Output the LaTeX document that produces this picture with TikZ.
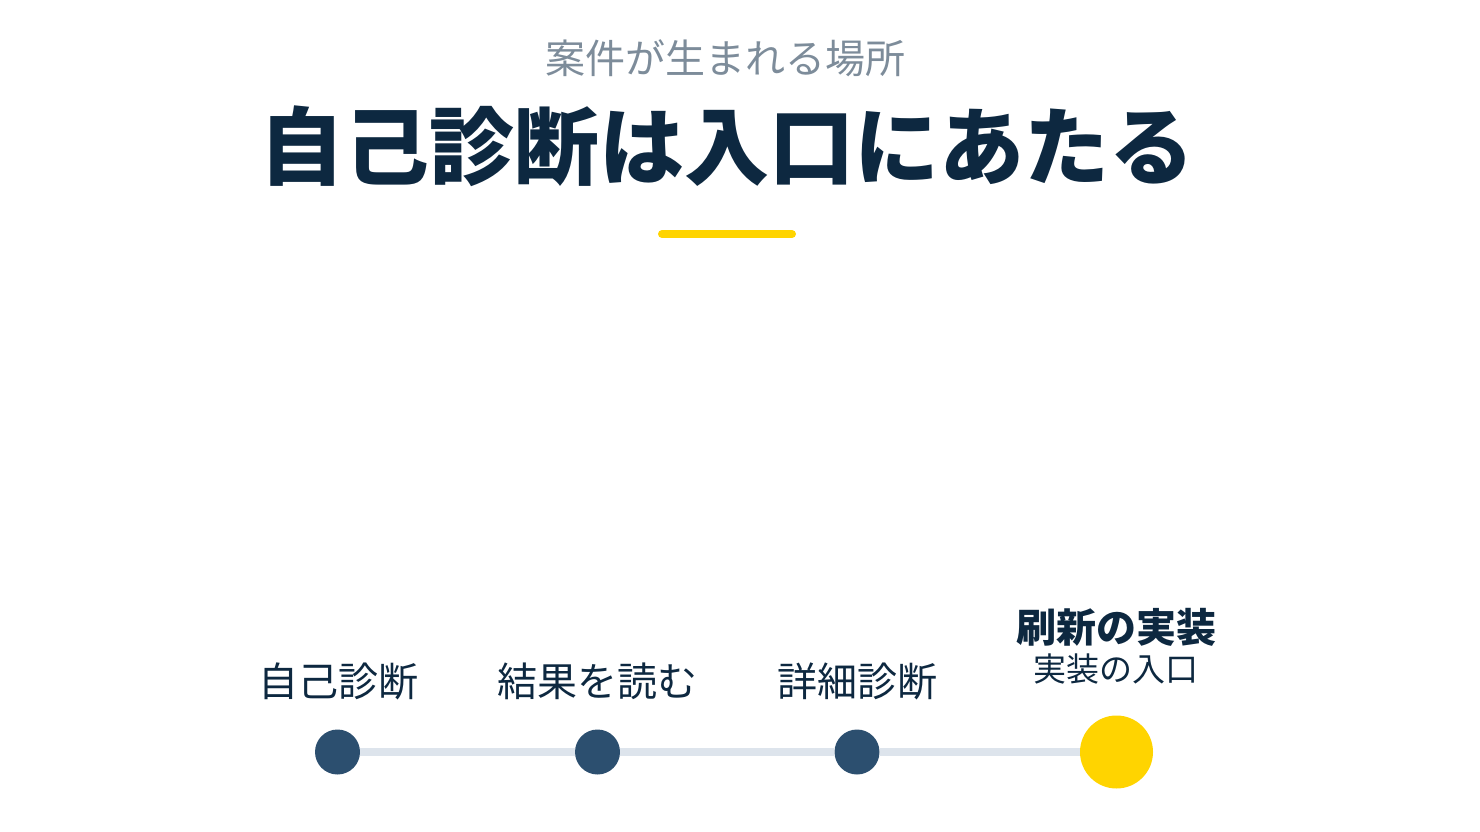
\documentclass[tikz,border=0pt]{standalone}
\usepackage{fontspec}
\newfontfamily\cjk{Noto Sans CJK JP}
\definecolor{navy}{HTML}{0D2840}
\definecolor{dotblue}{HTML}{2C4F6F}
\definecolor{subgray}{HTML}{7D8C9A}
\definecolor{railgray}{HTML}{DDE4EC}
\definecolor{accent}{HTML}{FFD400}

\begin{document}
\begin{tikzpicture}
[every node/.style={inner sep=0pt, font=\cjk},
 step dot/.style={circle, minimum size=45pt, fill=dotblue},
 goal dot/.style={circle, minimum size=73pt, fill=accent},
 step label/.style={text=navy, font=\cjk\fontsize{40}{44}\selectfont}]
\useasboundingbox (0pt, 0pt) rectangle (1480pt, -832pt);
\node (sub) [text=subgray, font=\cjk\fontsize{40}{44}\selectfont] at (725.0pt, -58.0pt) {案件が生まれる場所};
\node (title) [text=navy, font=\cjk\bfseries\fontsize{85}{90}\selectfont] at (727.0pt, -146.0pt) {自己診断は入口にあたる};
\coordinate (barL) at (662.0pt, -234.0pt);
\coordinate (barR) at (792.0pt, -234.0pt);
\draw [line width=8pt, line cap=round, color=accent] (barL) to (barR);
\node (d1) [step dot] at (337.5pt, -752.0pt) {};
\node (d2) [step dot] at (597.5pt, -752.0pt) {};
\node (d3) [step dot] at (857.0pt, -752.0pt) {};
\node (d4) [goal dot] at (1116.5pt, -752.0pt) {};
\node (l1) [step label] at (338.0pt, -681.0pt) {自己診断};
\node (l2) [step label] at (597.0pt, -681.0pt) {結果を読む};
\node (l3) [step label] at (857.0pt, -681.0pt) {詳細診断};
\node (l4) [step label, font=\cjk\bfseries\fontsize{40}{44}\selectfont] at (1116.0pt, -627.0pt) {刷新の実装};
\node (l5) [step label, font=\cjk\fontsize{33}{36}\selectfont] at (1116.0pt, -669.0pt) {実装の入口};
% rail between the dots
\draw [line width=8pt, color=railgray] (d1) to (d2);
\draw [line width=8pt, color=railgray] (d2) to (d3);
\draw [line width=8pt, color=railgray] (d3) to (d4);
\end{tikzpicture}
\end{document}
